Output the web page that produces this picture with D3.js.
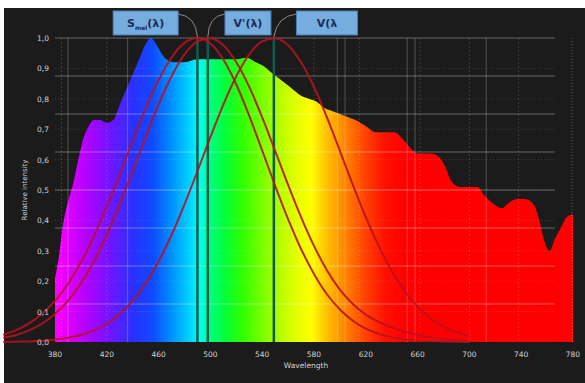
<!DOCTYPE html>
<html>
<head>
<meta charset="utf-8">
<script src="https://cdn.jsdelivr.net/npm/d3@7"></script>
<style>
  html, body { margin: 0; padding: 0; background: #fff; overflow: hidden; }
  text { font-family: "DejaVu Sans", sans-serif; }
</style>
</head>
<body>
<svg id="chart" width="585" height="383"></svg>
<script>
// spectrum (nm, relative intensity)
const specNm = [380,383,386,390,394,398,402,406,410,415,420,425,430,435,440,445,450,454,458,462,466,472,480,490,500,510,520,528,535,540,546,552,558,564,570,576,582,588,594,600,606,612,620,628,636,642,648,654,660,670,676,681,686,693,700,706,712,720,725,731,737,743,750,754,758,762,766,770,775,780];
const specVal = [0.21,0.28,0.38,0.46,0.52,0.60,0.67,0.71,0.73,0.73,0.72,0.73,0.78,0.83,0.88,0.93,0.98,1.0,0.98,0.95,0.93,0.92,0.92,0.93,0.93,0.93,0.93,0.935,0.92,0.91,0.89,0.87,0.85,0.83,0.81,0.80,0.79,0.77,0.76,0.75,0.74,0.73,0.71,0.69,0.69,0.69,0.67,0.64,0.62,0.62,0.61,0.58,0.53,0.51,0.51,0.51,0.48,0.45,0.44,0.46,0.47,0.47,0.45,0.40,0.33,0.30,0.34,0.37,0.41,0.42];

// sensitivity curves
const curveNm = d3.range(340, 701, 10);
const sMel  = [0.024,0.039,0.061,0.093,0.135,0.191,0.262,0.347,0.445,0.551,0.662,0.768,0.862,0.936,0.984,1.0,0.982,0.929,0.847,0.744,0.63,0.514,0.404,0.306,0.224,0.157,0.107,0.07,0.044,0.027,0.016,0.009,0.005,0.003,0.002,0.001,0];
const vScot = [0.014,0.023,0.038,0.06,0.092,0.135,0.193,0.265,0.352,0.453,0.562,0.674,0.781,0.874,0.946,0.989,0.999,0.976,0.92,0.839,0.739,0.629,0.517,0.411,0.316,0.236,0.172,0.125,0.09,0.066,0.048,0.034,0.024,0.016,0.01,0.006,0.003];
const vPhot = [0,0.001,0.002,0.004,0.008,0.014,0.023,0.038,0.06,0.092,0.135,0.193,0.265,0.352,0.453,0.562,0.674,0.781,0.874,0.946,0.989,0.999,0.976,0.92,0.839,0.739,0.629,0.517,0.411,0.316,0.234,0.168,0.116,0.078,0.05,0.032,0.019];
const peakNm = [490, 498, 549];

const labelText = ["S", "V'(λ)", "V(λ"];
const labelNm = [450, 529, 590];
const labelW = [65, 46, 61];

const xTicks = [380,420,460,500,540,580,620,660,700,740,780];
const yTicks = [0,0.1,0.2,0.3,0.4,0.5,0.6,0.7,0.8,0.9,1.0];
const gridFrac = [0.125,0.25,0.375,0.5,0.625,0.75,0.875,1.0];
const gridSolidNm = [390,436,598,604,652,658,713];
const gridDashNm = [385,420,580,615,662,700,738];

// colour of the spectrum at each wavelength
const colNm  = [380,400,420,440,455,470,485,492,500,510,525,545,565,578,590,605,620,635,650,780];
const colHex = ["#ff00ff","#c000ff","#7a10ff","#2a30ff","#1048ff","#0090ff","#00d8ff","#00ffee","#00ff80","#00ff40","#30ff00","#90ff00","#e0ff00","#ffff00","#ffc000","#ff8000","#ff4000","#ff1000","#ff0000","#ff0000"];

const svg = d3.select("#chart");
const x = d3.scaleLinear().domain([380, 780]).range([55, 573]);
const y = d3.scaleLinear().domain([0, 1]).range([342, 38]);

svg.append("rect").attr("x", 4).attr("y", 8).attr("width", 581).attr("height", 375).attr("fill", "#1b1b1b");

const grad = svg.append("defs").append("linearGradient")
  .attr("id", "spec").attr("gradientUnits", "userSpaceOnUse")
  .attr("x1", x(380)).attr("x2", x(780)).attr("y1", 0).attr("y2", 0);
colNm.forEach((n, i) => {
  grad.append("stop").attr("offset", (n - 380) / 400).attr("stop-color", colHex[i]);
});

const spec = specNm.map((n, i) => [n, specVal[i]]);
svg.append("path")
  .datum(spec)
  .attr("fill", "url(#spec)")
  .attr("d", d3.area().x(d => x(d[0])).y0(y(0)).y1(d => y(d[1])).curve(d3.curveMonotoneX));

// grid on top of spectrum
const grid = svg.append("g");
grid.selectAll(".hg").data(gridFrac).join("line")
  .attr("x1", x(380)).attr("x2", x(766))
  .attr("y1", d => y(d)).attr("y2", d => y(d))
  .attr("stroke", "#fff").attr("stroke-opacity", 0.22).attr("stroke-width", 1.5);
grid.selectAll(".hd").data(yTicks.slice(1, 10)).join("line")
  .attr("x1", x(380)).attr("x2", x(766))
  .attr("y1", d => y(d)).attr("y2", d => y(d))
  .attr("stroke", "#fff").attr("stroke-opacity", 0.15).attr("stroke-dasharray", "1,2");
grid.selectAll(".vs").data(gridSolidNm).join("line")
  .attr("x1", d => x(d)).attr("x2", d => x(d))
  .attr("y1", y(1)).attr("y2", y(0))
  .attr("stroke", "#fff").attr("stroke-opacity", 0.2).attr("stroke-width", 1.2);
grid.selectAll(".vd").data(gridDashNm).join("line")
  .attr("x1", d => x(d)).attr("x2", d => x(d))
  .attr("y1", y(1)).attr("y2", y(0))
  .attr("stroke", "#fff").attr("stroke-opacity", 0.15).attr("stroke-dasharray", "2,2");
grid.append("line")
  .attr("x1", x(780) - 1).attr("x2", x(780) - 1).attr("y1", y(1)).attr("y2", y(0))
  .attr("stroke", "#fff").attr("stroke-opacity", 0.3).attr("stroke-dasharray", "1,2");

// peak markers
svg.selectAll(".peak").data(peakNm).join("line")
  .attr("x1", d => x(d)).attr("x2", d => x(d))
  .attr("y1", y(1)).attr("y2", y(0))
  .attr("stroke", "#0d5c4c").attr("stroke-width", 2.5);

// sensitivity curves
const line = d3.line().x(d => x(d[0])).y(d => y(d[1])).curve(d3.curveMonotoneX);
[sMel, vScot, vPhot].forEach(vals => {
  svg.append("path")
    .datum(curveNm.map((n, i) => [n, vals[i]]))
    .attr("fill", "none")
    .attr("stroke", "#b8121f").attr("stroke-opacity", 0.9).attr("stroke-width", 2)
    .attr("d", line);
});

// label boxes with leader lines
const lab = svg.append("g");
labelText.forEach((t, i) => {
  const cx = x(labelNm[i]), w = labelW[i];
  const g = lab.append("g");
  const px = x(peakNm[i]);
  const ex = i === 0 ? cx + w / 2 : cx - w / 2;
  g.append("path")
    .attr("d", `M${ex},14 Q${(ex + px) / 2 + (i === 0 ? 8 : -8)},16 ${px},${y(1) - 1}`)
    .attr("fill", "none").attr("stroke", "#8a8a8a").attr("stroke-width", 1);
  g.append("rect").attr("x", cx - w / 2).attr("y", 11).attr("width", w).attr("height", 24)
    .attr("fill", "#76addf").attr("stroke", "#4a7fb5").attr("stroke-width", 1);
  const tx = g.append("text").attr("x", cx).attr("y", 27).attr("text-anchor", "middle")
    .attr("font-size", 11).attr("font-weight", "bold").attr("fill", "#1c2b55");
  if (i === 0) {
    tx.append("tspan").text("S");
    tx.append("tspan").attr("font-size", 6).attr("dy", 3).text("mel");
    tx.append("tspan").attr("dy", -3).text("(λ)");
  } else {
    tx.text(t);
  }
});

// axes labels
const fmt = d => d.toFixed(1).replace(".", ",");
svg.append("g").selectAll("text").data(yTicks).join("text")
  .attr("x", 49).attr("y", d => y(d) + 3).attr("text-anchor", "end")
  .attr("font-size", 7.5).attr("fill", "#d4d4d4").text(fmt);
svg.append("g").selectAll("text").data(xTicks).join("text")
  .attr("x", d => x(d)).attr("y", 357).attr("text-anchor", "middle")
  .attr("font-size", 7.5).attr("fill", "#d4d4d4").text(d => d);
svg.append("text").attr("x", x(580) - 8).attr("y", 368).attr("text-anchor", "middle")
  .attr("font-size", 7.5).attr("fill", "#d4d4d4").text("Wavelength");
svg.append("text").attr("transform", "translate(27,190) rotate(-90)").attr("text-anchor", "middle")
  .attr("font-size", 7).attr("fill", "#d4d4d4").text("Relative intensity");
</script>
</body>
</html>
